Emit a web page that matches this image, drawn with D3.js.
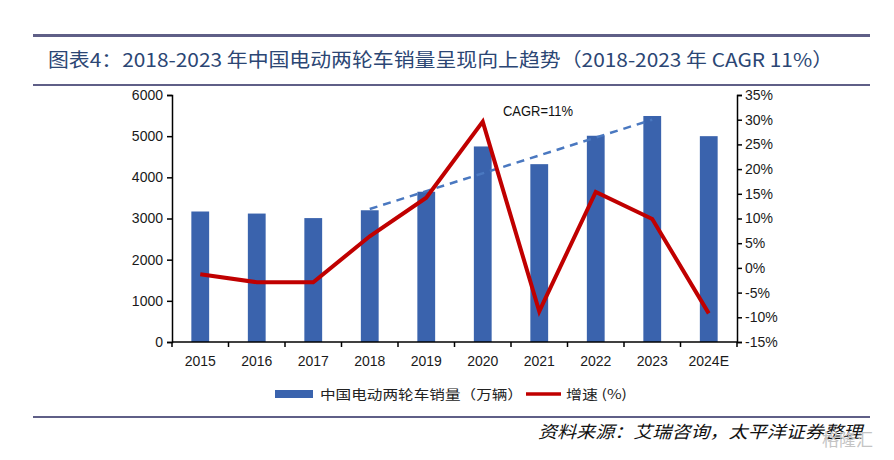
<!DOCTYPE html>
<html><head><meta charset="utf-8">
<script src="https://cdn.jsdelivr.net/npm/d3@7/dist/d3.min.js"></script>
<style>body{margin:0;background:#fff}svg{display:block}</style>
</head><body>
<svg id="c" width="894" height="460"></svg>
<script>
const categories = ["2015","2016","2017","2018","2019","2020","2021","2022","2023","2024E"];
const sales = [3170, 3120, 3010, 3200, 3650, 4750, 4320, 5010, 5490, 5000];
const growth = [-1.3, -2.9, -2.9, 6.4, 14.2, 29.6, -8.8, 15.4, 9.9, -9.2];
const trendCats = ["2018", "2023"];
const trendVals = [3230, 5400];
const leftTicks = [0,1000,2000,3000,4000,5000,6000];
const rightTicks = [-15,-10,-5,0,5,10,15,20,25,30,35];
const titleText = "图表4：2018-2023 年中国电动两轮车销量呈现向上趋势（2018-2023 年 CAGR 11%）";
const legendLabels = ["中国电动两轮车销量（万辆）", "增速 (%)"];
const sourceText = "资料来源：艾瑞咨询，太平洋证券整理";
const cagrLabel = "CAGR=11%";

const svg = d3.select("#c");
const font = "Liberation Sans, Arial, sans-serif";
const cjk = "Noto Sans CJK SC, sans-serif";

// header lines
svg.append("rect").attr("x",33).attr("y",34).attr("width",837).attr("height",3).attr("fill","#5f5f87");
svg.append("rect").attr("x",33).attr("y",84).attr("width",837).attr("height",2).attr("fill","#5f5f87");
svg.append("rect").attr("x",33).attr("y",416).attr("width",837).attr("height",2).attr("fill","#5f5f87");

svg.append("text").attr("x",48).attr("y",67).text(titleText)
  .attr("font-family",cjk).attr("font-size",19).attr("fill","#2b4674")
  .attr("textLength",785).attr("lengthAdjust","spacingAndGlyphs");

const x = d3.scaleBand().domain(categories).range([172,737]).padding(0);
const yL = d3.scaleLinear().domain([0,6000]).range([342,95]);
const yR = d3.scaleLinear().domain([-15,35]).range([342,95]);

// bars
const bw = x.bandwidth()*0.315;
svg.append("g").selectAll("rect").data(categories).join("rect")
  .attr("x",(d)=>x(d)+x.bandwidth()/2-bw/2)
  .attr("y",(d,i)=>yL(sales[i]))
  .attr("width",bw)
  .attr("height",(d,i)=>yL(0)-yL(sales[i]))
  .attr("fill","#3a63ad");

// trend dashed
const tl = d3.line().x(d=>x(d[0])+x.bandwidth()/2).y(d=>yL(d[1]));
svg.append("path").attr("d",tl(trendCats.map((c,i)=>[c,trendVals[i]])))
  .attr("fill","none").attr("stroke","#4a78c0").attr("stroke-width",2.5).attr("stroke-dasharray","8,6");

// growth line
const gl = d3.line().x((d,i)=>x(categories[i])+x.bandwidth()/2).y(d=>yR(d));
svg.append("path").attr("d",gl(growth)).attr("fill","none").attr("stroke","#c00000")
  .attr("stroke-width",4).attr("stroke-linejoin","miter");

// axes
const axL = svg.append("g").attr("transform","translate(172,0)")
  .call(d3.axisLeft(yL).tickValues(leftTicks).tickSize(5).tickPadding(4).tickFormat(d3.format("d")));
const axR = svg.append("g").attr("transform","translate(737,0)")
  .call(d3.axisRight(yR).tickValues(rightTicks).tickSize(5).tickPadding(3).tickFormat(d=>d+"%"));
const axX = svg.append("g").attr("transform","translate(0,342)")
  .call(d3.axisBottom(x).tickSize(0).tickPadding(14));
// band boundary ticks
svg.append("g").selectAll("line").data(d3.range(categories.length+1)).join("line")
  .attr("x1",i=>172+i*x.bandwidth()).attr("x2",i=>172+i*x.bandwidth())
  .attr("y1",342).attr("y2",347).attr("stroke","#000").attr("stroke-width",1.5);
[axL,axR,axX].forEach(a=>{
  a.selectAll("path").attr("stroke","#000").attr("stroke-width",1.5);
  a.selectAll("line").attr("stroke","#000").attr("stroke-width",1.5);
  a.selectAll("text").attr("font-family",font).attr("font-size",14).attr("fill","#1a1a1a");
});
axX.select(".domain").attr("d","M172,0H737");

// CAGR label
svg.append("text").attr("x",538).attr("y",116).attr("text-anchor","middle").text(cagrLabel)
  .attr("font-family",font).attr("font-size",14).attr("fill","#111")
  .attr("textLength",70).attr("lengthAdjust","spacingAndGlyphs");

// legend
svg.append("rect").attr("x",275).attr("y",390).attr("width",38).attr("height",8).attr("fill","#3a63ad");
svg.append("text").attr("x",320).attr("y",399).text(legendLabels[0])
  .attr("font-family",cjk).attr("font-size",13).attr("fill","#222")
  .attr("textLength",203).attr("lengthAdjust","spacingAndGlyphs");
svg.append("line").attr("x1",526).attr("x2",561).attr("y1",394).attr("y2",394)
  .attr("stroke","#c00000").attr("stroke-width",3.5);
svg.append("text").attr("x",566).attr("y",399).text(legendLabels[1])
  .attr("font-family",cjk).attr("font-size",13).attr("fill","#222")
  .attr("textLength",61).attr("lengthAdjust","spacingAndGlyphs");

// source
svg.append("text").attr("x",538).attr("y",438).text(sourceText)
  .attr("font-family",cjk).attr("font-size",17).attr("font-style","italic").attr("fill","#111")
  .attr("textLength",324).attr("lengthAdjust","spacingAndGlyphs");

// watermark
svg.append("text").attr("x",822).attr("y",446).text("格隆汇")
  .attr("font-family",cjk).attr("font-size",17).attr("fill","#c4c4c4");
</script>
</body></html>
